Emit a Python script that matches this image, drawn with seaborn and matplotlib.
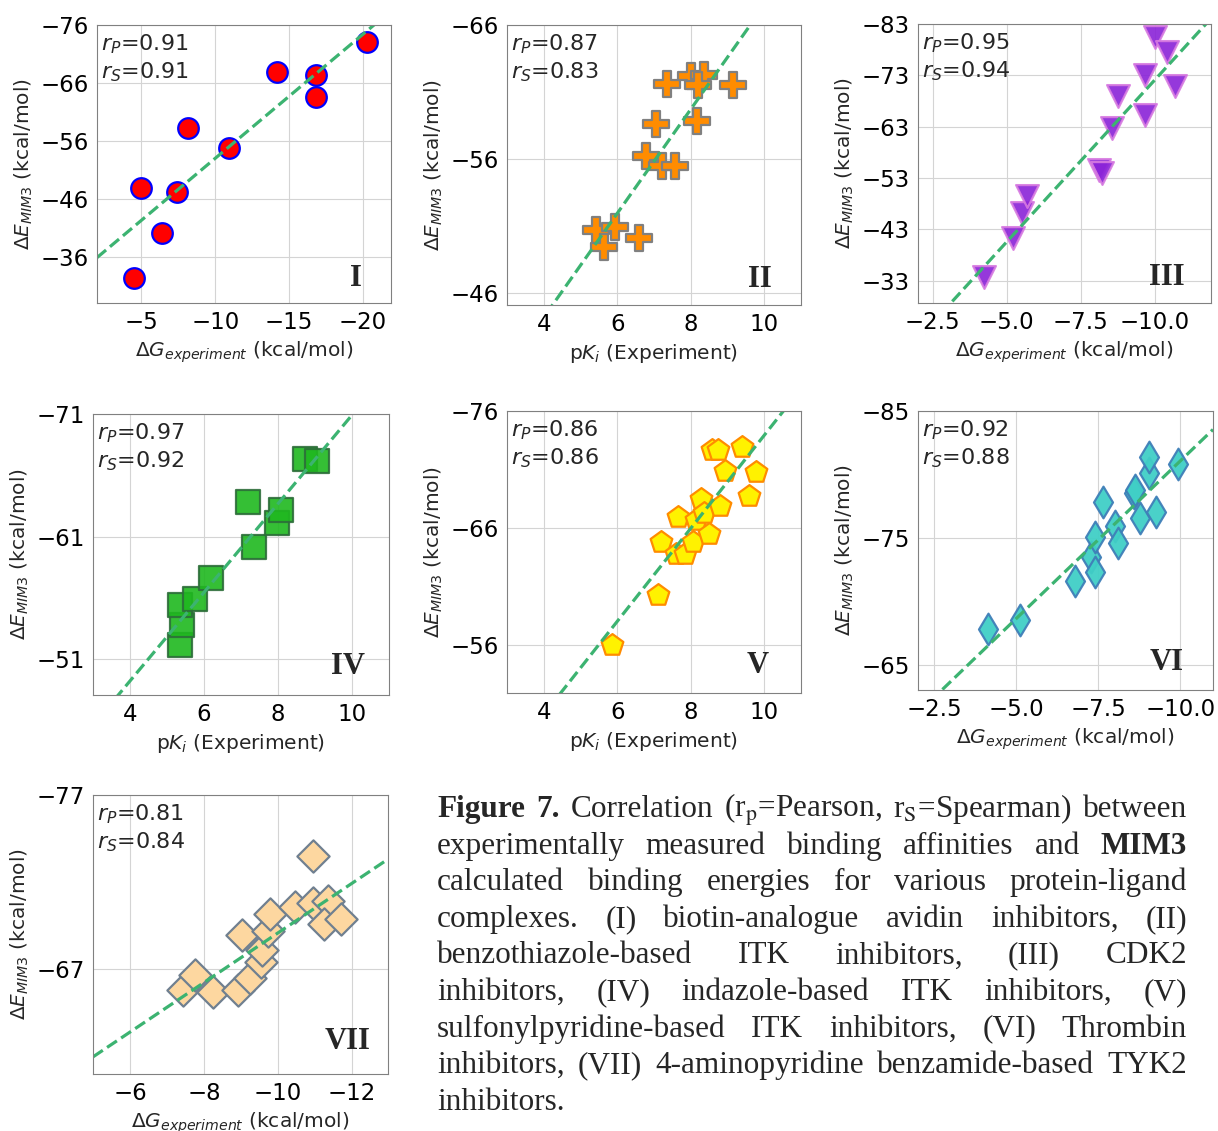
import matplotlib
matplotlib.use("Agg")
import numpy as np
import matplotlib.pyplot as plt
import seaborn as sns

# ---- datos ----
# (I) biotin-analogue avidin inhibitors
i_x = [-4.48, -5.0, -6.39, -7.41, -8.19, -10.96, -14.15, -16.8, -16.8, -20.27]
i_y = [-32.4, -47.9, -40.1, -47.3, -58.2, -54.8, -67.9, -67.4, -63.6, -73.0]

# (II) benzothiazole-based ITK inhibitors
ii_x = [5.41, 5.95, 5.63, 6.59, 6.77, 7.23, 7.57, 7.05, 7.35, 8.0, 8.36, 8.2, 8.16, 9.14]
ii_y = [-50.7, -50.9, -49.4, -50.1, -56.2, -55.5, -55.5, -58.6, -61.6, -62.2, -62.3, -61.5, -58.8, -61.5]

# (III) CDK2 inhibitors
iii_x = [-4.23, -5.21, -5.52, -5.69, -8.12, -8.23, -8.57, -8.77, -9.67, -9.67, -10.0, -10.42, -10.68]
iii_y = [-33.8, -41.3, -46.2, -49.4, -54.6, -54.0, -62.7, -68.9, -65.3, -73.1, -80.5, -77.6, -70.9]

# (IV) indazole-based ITK inhibitors
iv_x = [5.34, 5.41, 5.34, 5.75, 6.18, 7.36, 7.2, 7.96, 8.08, 8.72, 9.06]
iv_y = [-52.2, -53.8, -55.4, -55.9, -57.6, -60.2, -63.8, -62.1, -63.2, -67.3, -67.2]

# (V) sulfonylpyridine-based ITK inhibitors
v_x = [5.86, 7.11, 7.2, 7.59, 7.83, 7.66, 8.07, 8.14, 8.27, 8.36, 8.5, 8.8,
       8.59, 8.73, 8.93, 9.39, 9.59, 9.77]
v_y = [-56.0, -60.3, -64.8, -63.8, -63.8, -66.9, -64.8, -66.7, -68.5, -67.3, -65.5, -67.9,
       -72.7, -72.7, -70.9, -72.9, -68.7, -70.8]

# (VI) Thrombin inhibitors
vi_x = [-4.13, -5.12, -6.79, -7.28, -7.4, -7.4, -7.64, -8.0, -8.1, -8.58, -8.63,
        -8.76, -9.04, -9.04, -9.27, -9.94]
vi_y = [-67.8, -68.5, -71.6, -73.5, -72.3, -75.1, -77.8, -75.9, -74.6, -78.5, -78.8,
        -76.6, -80.1, -81.4, -77.0, -80.8]

# (VII) 4-aminopyridine benzamide-based TYK2 inhibitors
vii_x = [-7.42, -7.75, -8.25, -8.92, -9.24, -9.55, -9.57, -9.03, -9.74, -9.78,
         -10.46, -10.95, -11.36, -11.24, -11.69, -10.95]
vii_y = [-65.8, -66.7, -65.7, -65.8, -66.5, -67.4, -68.1, -69.0, -69.2, -70.2,
         -70.6, -70.8, -70.9, -69.6, -69.9, -73.5]

r_pearson = [0.91, 0.87, 0.95, 0.97, 0.86, 0.92, 0.81]
r_spearman = [0.91, 0.83, 0.94, 0.92, 0.86, 0.88, 0.84]
nombres = ["I", "II", "III", "IV", "V", "VI", "VII"]

xticks_list = [[-5, -10, -15, -20], [4, 6, 8, 10], [-2.5, -5.0, -7.5, -10.0],
               [4, 6, 8, 10], [4, 6, 8, 10], [-2.5, -5.0, -7.5, -10.0],
               [-6, -8, -10, -12]]
yticks_list = [[-76, -66, -56, -46, -36], [-66, -56, -46], [-83, -73, -63, -53, -43, -33],
               [-71, -61, -51], [-76, -66, -56], [-85, -75, -65], [-77, -67]]

caption_lines = [
    r"Figure 7. Correlation (r$_\mathrm{p}$=Pearson, r$_\mathrm{S}$=Spearman) between",
    "experimentally measured binding affinities and MIM3",
    "calculated binding energies for various protein-ligand",
    "complexes. (I) biotin-analogue avidin inhibitors, (II)",
    "benzothiazole-based ITK inhibitors, (III) CDK2",
    "inhibitors, (IV) indazole-based ITK inhibitors, (V)",
    "sulfonylpyridine-based ITK inhibitors, (VI) Thrombin",
    "inhibitors, (VII) 4-aminopyridine benzamide-based TYK2",
    "inhibitors.",
]
negritas = {"Figure", "7.", "MIM3"}

# ---- estilo ----
sns.set_style("whitegrid", {"axes.edgecolor": "0.5", "grid.color": "0.83",
                            "axes.linewidth": 1.3})
plt.rcParams["font.family"] = ["DejaVu Sans"]

W, H = 1218, 1131
fig = plt.figure(figsize=(W / 100, H / 100), dpi=100)

xlab_dg = r"$\Delta G_{experiment}$ (kcal/mol)"
xlab_pk = r"p$K_i$ (Experiment)"

# estilo de cada panel: (datos, marcador, tamaño, relleno, borde, alpha, rect px, xlim, ylim, xlabel)
paneles = [
    (i_x, i_y, "o", 220, "red", "blue", 1.0, (97, 25, 391, 303), (-2.0, -21.9), (-28.1, -76), xlab_dg),
    (ii_x, ii_y, "P", 330, "darkorange", "grey", 1.0, (507, 25, 801, 305), (3, 11), (-45.1, -66), xlab_pk),
    (iii_x, iii_y, "v", 270, "#8a22d8", "#d77be0", 0.9, (918, 24, 1211, 303), (-2.0, -11.9), (-28.65, -83), xlab_dg),
    (iv_x, iv_y, "s", 300, "#1fb81f", "#2d6e3a", 0.9, (93, 414, 389, 695), (3, 11), (-48.1, -71), xlab_pk),
    (v_x, v_y, "p", 270, "#fff200", "darkorange", 1.0, (507, 411, 801, 693), (3, 11), (-51.9, -76), xlab_pk),
    (vi_x, vi_y, "d", 260, "#40cfc6", "#3f7fb8", 0.95, (918, 411, 1213, 690), (-2.0, -11.0), (-63.0, -85), xlab_dg),
    (vii_x, vii_y, "D", 270, "#fdd7a0", "slategray", 1.0, (93, 795, 388, 1074), (-5.0, -12.97), (-61.0, -77), xlab_dg),
]
pos_nombre = [(0.90, 0.06), (0.90, 0.065), (0.91, 0.065), (0.92, 0.075),
              (0.89, 0.07), (0.90, 0.07), (0.94, 0.09)]

for k, (px, py, mk, s, fc, ec, al, rect, xl, yl, xlab) in enumerate(paneles):
    l, t, r, b = rect
    ax = fig.add_axes([l / W, 1 - b / H, (r - l) / W, (b - t) / H])
    ax.set_xlim(*xl)
    ax.set_ylim(*yl)
    sns.regplot(x=np.array(px), y=np.array(py), ax=ax, ci=None, truncate=False,
                marker=mk,
                scatter_kws=dict(s=s, color=fc, edgecolor=ec, linewidths=1.6, alpha=al),
                line_kws=dict(color="mediumseagreen", ls="--", lw=2.3))
    ax.set_xlim(*xl)
    ax.set_ylim(*yl)
    ax.set_xticks(xticks_list[k])
    ax.set_yticks(yticks_list[k])
    ax.tick_params(labelsize=16.5, length=0, pad=6, labelcolor="black")
    ax.set_xlabel(xlab, fontsize=14.5)
    ax.set_ylabel(r"$\Delta E_{MIM3}$ (kcal/mol)", fontsize=14.5)
    ax.text(0.015, 0.975, f"$r_P$={r_pearson[k]:.2f}\n$r_S$={r_spearman[k]:.2f}",
            transform=ax.transAxes, fontsize=16, va="top", ha="left", linespacing=1.25)
    ax.text(pos_nombre[k][0], pos_nombre[k][1], nombres[k], transform=ax.transAxes,
            fontsize=22, fontweight="bold", family="Liberation Serif",
            ha="right", va="baseline")

# ---- pie de figura justificado ----
renderer = fig.canvas.get_renderer()
x0, x1 = 437, 1187
tam = 22.5
for n, linea in enumerate(caption_lines):
    yb = 1 - (817 + 36.6 * n) / H
    palabras = linea.split(" ")
    textos = []
    for p in palabras:
        peso = "bold" if p in negritas else "normal"
        tx = fig.text(0, yb, p, fontsize=tam, family="Liberation Serif", weight=peso,
                      math_fontfamily="stix", va="baseline", ha="left")
        textos.append(tx)
    anchos = [tx.get_window_extent(renderer).width for tx in textos]
    if n < len(caption_lines) - 1 and len(textos) > 1:
        hueco = (x1 - x0 - sum(anchos)) / (len(textos) - 1)
    else:
        hueco = tam * 1.389 * 0.25
    xp = x0
    for tx, a in zip(textos, anchos):
        tx.set_x(xp / W)
        xp += a + hueco

fig.savefig("out.png", dpi=100)
